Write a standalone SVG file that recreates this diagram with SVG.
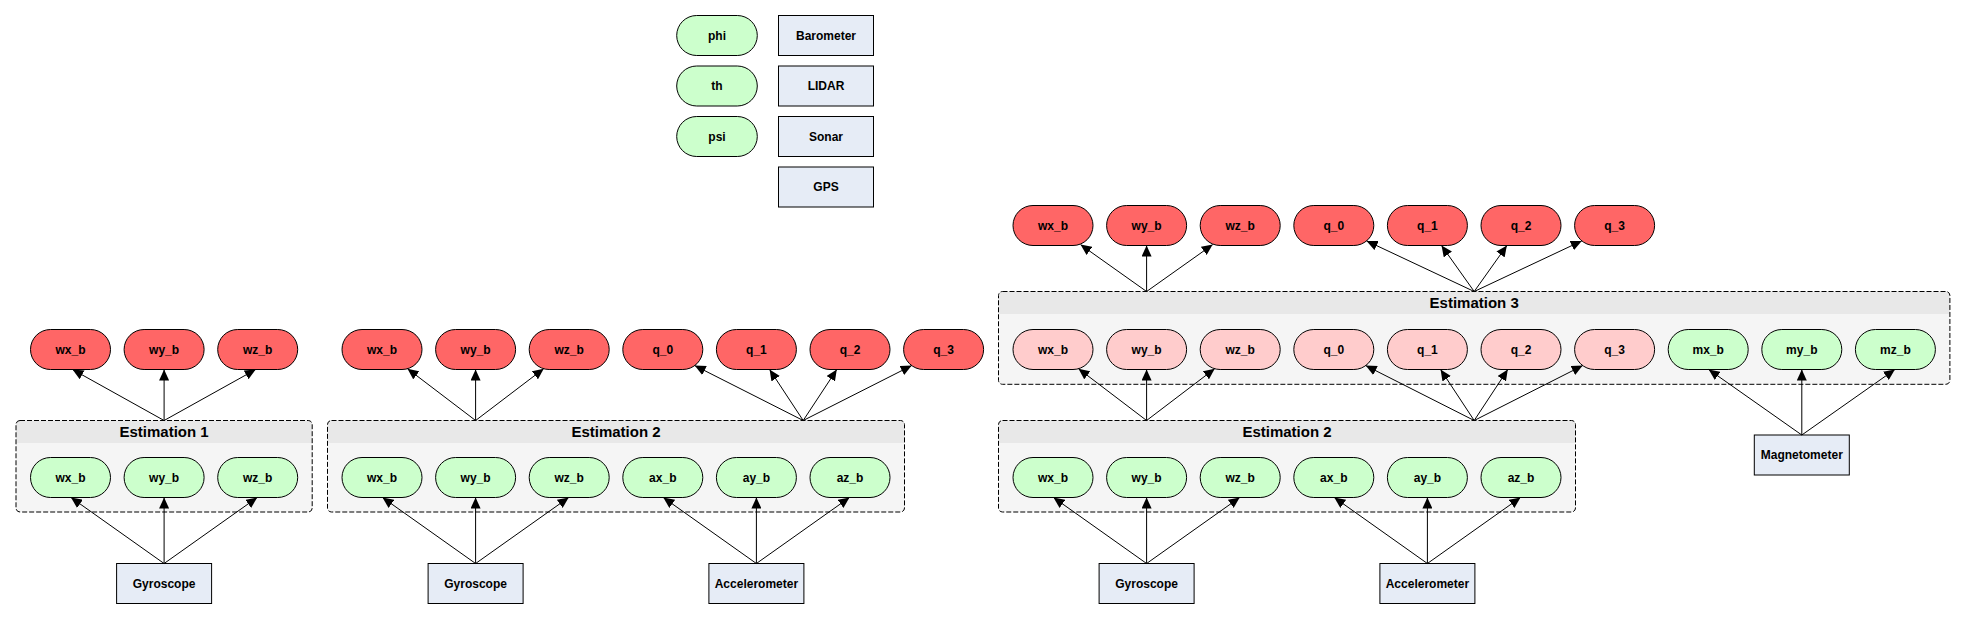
<svg xmlns="http://www.w3.org/2000/svg" width="1966" height="619" viewBox="0 0 1966 619">
<style>
.n text,.t{font-family:"Liberation Sans",Arial,sans-serif;font-weight:bold;font-size:12px;text-anchor:middle;fill:#000}
.h{font-family:"Liberation Sans",Arial,sans-serif;font-weight:bold;font-size:15px;text-anchor:middle;fill:#000}
.red{fill:#FF6666;stroke:#000;stroke-width:1}
.pink{fill:#FFCCCC;stroke:#000;stroke-width:1}
.grn{fill:#CCFFCC;stroke:#000;stroke-width:1}
.box{fill:#E6ECF6;stroke:#000;stroke-width:1}
.cb{fill:#F5F5F5;stroke:none}
.ch{fill:#E8E8E8;stroke:none}
.cd{fill:none;stroke:#000;stroke-width:1;stroke-dasharray:5,2}
#edges line{stroke:#000;stroke-width:1;marker-end:url(#arr)}
</style>
<defs>
<marker id="arr" markerUnits="userSpaceOnUse" markerWidth="11" markerHeight="10" refX="11" refY="5" orient="auto">
<path d="M0,0 L11,5 L0,10 z" fill="#000"/>
</marker>
</defs>

<!-- Clusters -->
<g id="cluster_est1">
<rect class="cb" x="16" y="420.5" width="296.2" height="91.5" rx="4"/>
<path class="ch" d="M16,443 V424.5 a4,4 0 0 1 4,-4 H308.2 a4,4 0 0 1 4,4 V443 Z"/>
<rect class="cd" x="16" y="420.5" width="296.2" height="91.5" rx="4"/>
<text class="h" x="164.1" y="437">Estimation 1</text>
</g>
<g id="cluster_est2a">
<rect class="cb" x="327.5" y="420.5" width="577" height="91.5" rx="4"/>
<path class="ch" d="M327.5,443 V424.5 a4,4 0 0 1 4,-4 H900.5 a4,4 0 0 1 4,4 V443 Z"/>
<rect class="cd" x="327.5" y="420.5" width="577" height="91.5" rx="4"/>
<text class="h" x="616" y="437">Estimation 2</text>
</g>
<g id="cluster_est2b">
<rect class="cb" x="998.5" y="420.5" width="577" height="91.5" rx="4"/>
<path class="ch" d="M998.5,443 V424.5 a4,4 0 0 1 4,-4 H1571.5 a4,4 0 0 1 4,4 V443 Z"/>
<rect class="cd" x="998.5" y="420.5" width="577" height="91.5" rx="4"/>
<text class="h" x="1287" y="437">Estimation 2</text>
</g>
<g id="cluster_est3">
<rect class="cb" x="998.5" y="291.5" width="951.4" height="92.8" rx="4"/>
<path class="ch" d="M998.5,314 V295.5 a4,4 0 0 1 4,-4 H1945.9 a4,4 0 0 1 4,4 V314 Z"/>
<rect class="cd" x="998.5" y="291.5" width="951.4" height="92.8" rx="4"/>
<text class="h" x="1474.2" y="308">Estimation 3</text>
</g>

<!-- Legend -->
<g id="phi" class="n"><rect class="grn" x="676.7" y="15.5" width="80.6" height="40" rx="20"/><text x="717" y="39.8">phi</text></g>
<g id="th" class="n"><rect class="grn" x="676.7" y="66" width="80.6" height="40" rx="20"/><text x="717" y="90.3">th</text></g>
<g id="psi" class="n"><rect class="grn" x="676.7" y="116.5" width="80.6" height="40" rx="20"/><text x="717" y="140.8">psi</text></g>
<g id="barometer" class="n"><rect class="box" x="778.5" y="15.5" width="95" height="40"/><text x="826" y="39.8">Barometer</text></g>
<g id="lidar" class="n"><rect class="box" x="778.5" y="66" width="95" height="40"/><text x="826" y="90.3">LIDAR</text></g>
<g id="sonar" class="n"><rect class="box" x="778.5" y="116.5" width="95" height="40"/><text x="826" y="140.8">Sonar</text></g>
<g id="gps" class="n"><rect class="box" x="778.5" y="167" width="95" height="40"/><text x="826" y="191.3">GPS</text></g>

<!-- Estimation 1 outputs -->
<g id="e1_out_wx" class="n"><rect class="red" x="30.5" y="329.5" width="80" height="40" rx="20"/><text x="70.5" y="353.8">wx_b</text></g>
<g id="e1_out_wy" class="n"><rect class="red" x="124.1" y="329.5" width="80" height="40" rx="20"/><text x="164.1" y="353.8">wy_b</text></g>
<g id="e1_out_wz" class="n"><rect class="red" x="217.7" y="329.5" width="80" height="40" rx="20"/><text x="257.7" y="353.8">wz_b</text></g>
<!-- Estimation 1 inputs -->
<g id="e1_in_wx" class="n"><rect class="grn" x="30.5" y="457.5" width="80" height="40" rx="20"/><text x="70.5" y="481.8">wx_b</text></g>
<g id="e1_in_wy" class="n"><rect class="grn" x="124.1" y="457.5" width="80" height="40" rx="20"/><text x="164.1" y="481.8">wy_b</text></g>
<g id="e1_in_wz" class="n"><rect class="grn" x="217.7" y="457.5" width="80" height="40" rx="20"/><text x="257.7" y="481.8">wz_b</text></g>
<g id="gyro1" class="n"><rect class="box" x="116.6" y="563.5" width="95" height="40"/><text x="164.1" y="587.8">Gyroscope</text></g>

<!-- Estimation 2 (left) outputs -->
<g id="e2a_out_wx" class="n"><rect class="red" x="342" y="329.5" width="80" height="40" rx="20"/><text x="382" y="353.8">wx_b</text></g>
<g id="e2a_out_wy" class="n"><rect class="red" x="435.6" y="329.5" width="80" height="40" rx="20"/><text x="475.6" y="353.8">wy_b</text></g>
<g id="e2a_out_wz" class="n"><rect class="red" x="529.2" y="329.5" width="80" height="40" rx="20"/><text x="569.2" y="353.8">wz_b</text></g>
<g id="e2a_out_q0" class="n"><rect class="red" x="622.8" y="329.5" width="80" height="40" rx="20"/><text x="662.8" y="353.8">q_0</text></g>
<g id="e2a_out_q1" class="n"><rect class="red" x="716.4" y="329.5" width="80" height="40" rx="20"/><text x="756.4" y="353.8">q_1</text></g>
<g id="e2a_out_q2" class="n"><rect class="red" x="810" y="329.5" width="80" height="40" rx="20"/><text x="850" y="353.8">q_2</text></g>
<g id="e2a_out_q3" class="n"><rect class="red" x="903.6" y="329.5" width="80" height="40" rx="20"/><text x="943.6" y="353.8">q_3</text></g>
<!-- Estimation 2 (left) inputs -->
<g id="e2a_in_wx" class="n"><rect class="grn" x="342" y="457.5" width="80" height="40" rx="20"/><text x="382" y="481.8">wx_b</text></g>
<g id="e2a_in_wy" class="n"><rect class="grn" x="435.6" y="457.5" width="80" height="40" rx="20"/><text x="475.6" y="481.8">wy_b</text></g>
<g id="e2a_in_wz" class="n"><rect class="grn" x="529.2" y="457.5" width="80" height="40" rx="20"/><text x="569.2" y="481.8">wz_b</text></g>
<g id="e2a_in_ax" class="n"><rect class="grn" x="622.8" y="457.5" width="80" height="40" rx="20"/><text x="662.8" y="481.8">ax_b</text></g>
<g id="e2a_in_ay" class="n"><rect class="grn" x="716.4" y="457.5" width="80" height="40" rx="20"/><text x="756.4" y="481.8">ay_b</text></g>
<g id="e2a_in_az" class="n"><rect class="grn" x="810" y="457.5" width="80" height="40" rx="20"/><text x="850" y="481.8">az_b</text></g>
<g id="gyro2" class="n"><rect class="box" x="428.1" y="563.5" width="95" height="40"/><text x="475.6" y="587.8">Gyroscope</text></g>
<g id="accel2" class="n"><rect class="box" x="708.9" y="563.5" width="95" height="40"/><text x="756.4" y="587.8">Accelerometer</text></g>

<!-- Estimation 3 outputs -->
<g id="e3_out_wx" class="n"><rect class="red" x="1013" y="205.5" width="80" height="40" rx="20"/><text x="1053" y="229.8">wx_b</text></g>
<g id="e3_out_wy" class="n"><rect class="red" x="1106.6" y="205.5" width="80" height="40" rx="20"/><text x="1146.6" y="229.8">wy_b</text></g>
<g id="e3_out_wz" class="n"><rect class="red" x="1200.2" y="205.5" width="80" height="40" rx="20"/><text x="1240.2" y="229.8">wz_b</text></g>
<g id="e3_out_q0" class="n"><rect class="red" x="1293.8" y="205.5" width="80" height="40" rx="20"/><text x="1333.8" y="229.8">q_0</text></g>
<g id="e3_out_q1" class="n"><rect class="red" x="1387.4" y="205.5" width="80" height="40" rx="20"/><text x="1427.4" y="229.8">q_1</text></g>
<g id="e3_out_q2" class="n"><rect class="red" x="1481" y="205.5" width="80" height="40" rx="20"/><text x="1521" y="229.8">q_2</text></g>
<g id="e3_out_q3" class="n"><rect class="red" x="1574.6" y="205.5" width="80" height="40" rx="20"/><text x="1614.6" y="229.8">q_3</text></g>
<!-- Estimation 3 inputs -->
<g id="e3_in_wx" class="n"><rect class="pink" x="1013" y="329.5" width="80" height="40" rx="20"/><text x="1053" y="353.8">wx_b</text></g>
<g id="e3_in_wy" class="n"><rect class="pink" x="1106.6" y="329.5" width="80" height="40" rx="20"/><text x="1146.6" y="353.8">wy_b</text></g>
<g id="e3_in_wz" class="n"><rect class="pink" x="1200.2" y="329.5" width="80" height="40" rx="20"/><text x="1240.2" y="353.8">wz_b</text></g>
<g id="e3_in_q0" class="n"><rect class="pink" x="1293.8" y="329.5" width="80" height="40" rx="20"/><text x="1333.8" y="353.8">q_0</text></g>
<g id="e3_in_q1" class="n"><rect class="pink" x="1387.4" y="329.5" width="80" height="40" rx="20"/><text x="1427.4" y="353.8">q_1</text></g>
<g id="e3_in_q2" class="n"><rect class="pink" x="1481" y="329.5" width="80" height="40" rx="20"/><text x="1521" y="353.8">q_2</text></g>
<g id="e3_in_q3" class="n"><rect class="pink" x="1574.6" y="329.5" width="80" height="40" rx="20"/><text x="1614.6" y="353.8">q_3</text></g>
<g id="e3_in_mx" class="n"><rect class="grn" x="1668.2" y="329.5" width="80" height="40" rx="20"/><text x="1708.2" y="353.8">mx_b</text></g>
<g id="e3_in_my" class="n"><rect class="grn" x="1761.8" y="329.5" width="80" height="40" rx="20"/><text x="1801.8" y="353.8">my_b</text></g>
<g id="e3_in_mz" class="n"><rect class="grn" x="1855.4" y="329.5" width="80" height="40" rx="20"/><text x="1895.4" y="353.8">mz_b</text></g>
<g id="magnet" class="n"><rect class="box" x="1754.3" y="435" width="95" height="40"/><text x="1801.8" y="459.3">Magnetometer</text></g>

<!-- Estimation 2 (right) inputs -->
<g id="e2b_in_wx" class="n"><rect class="grn" x="1013" y="457.5" width="80" height="40" rx="20"/><text x="1053" y="481.8">wx_b</text></g>
<g id="e2b_in_wy" class="n"><rect class="grn" x="1106.6" y="457.5" width="80" height="40" rx="20"/><text x="1146.6" y="481.8">wy_b</text></g>
<g id="e2b_in_wz" class="n"><rect class="grn" x="1200.2" y="457.5" width="80" height="40" rx="20"/><text x="1240.2" y="481.8">wz_b</text></g>
<g id="e2b_in_ax" class="n"><rect class="grn" x="1293.8" y="457.5" width="80" height="40" rx="20"/><text x="1333.8" y="481.8">ax_b</text></g>
<g id="e2b_in_ay" class="n"><rect class="grn" x="1387.4" y="457.5" width="80" height="40" rx="20"/><text x="1427.4" y="481.8">ay_b</text></g>
<g id="e2b_in_az" class="n"><rect class="grn" x="1481" y="457.5" width="80" height="40" rx="20"/><text x="1521" y="481.8">az_b</text></g>
<g id="gyro3" class="n"><rect class="box" x="1099.1" y="563.5" width="95" height="40"/><text x="1146.6" y="587.8">Gyroscope</text></g>
<g id="accel3" class="n"><rect class="box" x="1379.9" y="563.5" width="95" height="40"/><text x="1427.4" y="587.8">Accelerometer</text></g>

<!-- Connectors -->
<g id="edges">
<line x1="164.1" y1="420.5" x2="72.5" y2="369.5"/>
<line x1="164.1" y1="420.5" x2="164.1" y2="369.5"/>
<line x1="164.1" y1="420.5" x2="255.7" y2="369.5"/>
<line x1="164.1" y1="563.5" x2="71" y2="497.5"/>
<line x1="164.1" y1="563.5" x2="164.1" y2="497.5"/>
<line x1="164.1" y1="563.5" x2="257.2" y2="497.5"/>

<line x1="475.6" y1="420.5" x2="407.5" y2="368.7"/>
<line x1="475.6" y1="420.5" x2="475.6" y2="369.5"/>
<line x1="475.6" y1="420.5" x2="543.7" y2="368.7"/>
<line x1="803.2" y1="420.5" x2="694.7" y2="365.6"/>
<line x1="803.2" y1="420.5" x2="769.6" y2="369.5"/>
<line x1="803.2" y1="420.5" x2="836.8" y2="369.5"/>
<line x1="803.2" y1="420.5" x2="911.7" y2="365.6"/>
<line x1="475.6" y1="563.5" x2="382.5" y2="497.5"/>
<line x1="475.6" y1="563.5" x2="475.6" y2="497.5"/>
<line x1="475.6" y1="563.5" x2="568.7" y2="497.5"/>
<line x1="756.4" y1="563.5" x2="663.3" y2="497.5"/>
<line x1="756.4" y1="563.5" x2="756.4" y2="497.5"/>
<line x1="756.4" y1="563.5" x2="849.5" y2="497.5"/>

<line x1="1146.6" y1="291.5" x2="1080.5" y2="244.6"/>
<line x1="1146.6" y1="291.5" x2="1146.6" y2="245.5"/>
<line x1="1146.6" y1="291.5" x2="1212.7" y2="244.6"/>
<line x1="1474.2" y1="291.5" x2="1366.6" y2="240.9"/>
<line x1="1474.2" y1="291.5" x2="1441.5" y2="245.5"/>
<line x1="1474.2" y1="291.5" x2="1506.9" y2="245.5"/>
<line x1="1474.2" y1="291.5" x2="1581.8" y2="240.9"/>

<line x1="1146.6" y1="420.5" x2="1078.5" y2="368.7"/>
<line x1="1146.6" y1="420.5" x2="1146.6" y2="369.5"/>
<line x1="1146.6" y1="420.5" x2="1214.7" y2="368.7"/>
<line x1="1474.2" y1="420.5" x2="1365.7" y2="365.6"/>
<line x1="1474.2" y1="420.5" x2="1440.6" y2="369.5"/>
<line x1="1474.2" y1="420.5" x2="1507.8" y2="369.5"/>
<line x1="1474.2" y1="420.5" x2="1582.7" y2="365.6"/>

<line x1="1146.6" y1="563.5" x2="1053.5" y2="497.5"/>
<line x1="1146.6" y1="563.5" x2="1146.6" y2="497.5"/>
<line x1="1146.6" y1="563.5" x2="1239.7" y2="497.5"/>
<line x1="1427.4" y1="563.5" x2="1334.3" y2="497.5"/>
<line x1="1427.4" y1="563.5" x2="1427.4" y2="497.5"/>
<line x1="1427.4" y1="563.5" x2="1520.5" y2="497.5"/>
<line x1="1801.8" y1="435" x2="1708.7" y2="369.5"/>
<line x1="1801.8" y1="435" x2="1801.8" y2="369.5"/>
<line x1="1801.8" y1="435" x2="1894.9" y2="369.5"/>
</g>
</svg>
